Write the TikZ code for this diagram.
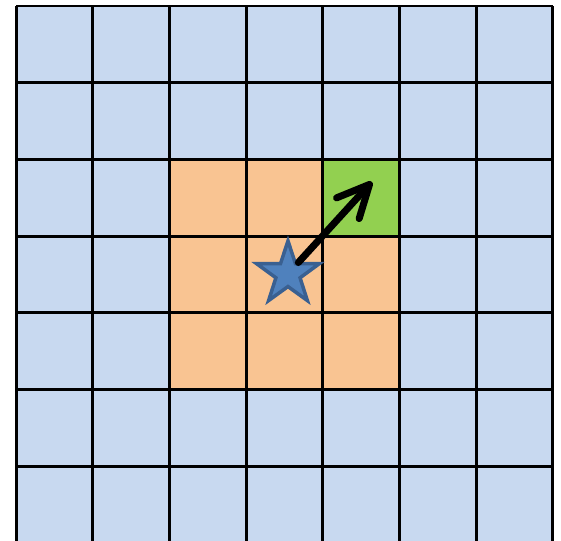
\documentclass[tikz,border=0pt]{standalone}
\usepackage{tikz}
\usetikzlibrary{arrows.meta, shapes.geometric}
\definecolor{cellblue}{RGB}{200,217,240}
\definecolor{cellorange}{RGB}{249,196,146}
\definecolor{cellgreen}{RGB}{146,208,80}
\definecolor{starblue}{RGB}{79,129,189}
\definecolor{starline}{RGB}{58,96,145}

\begin{document}
\begin{tikzpicture}[
  gridline/.style={line width=1.1pt, black},
  agent/.style={star, star points=5, star point ratio=2.6, minimum size=0.86cm,
    inner sep=0pt, fill=starblue, draw=starline, line width=1.3pt},
  move/.style={-{Straight Barb[length=0.42cm, width=0.4cm, line cap=round, line join=round]},
    line width=2.6pt, line cap=round, black}
]
  \useasboundingbox (-0.209,0.026) rectangle (7.106,7.078);

  % cells
  \fill[cellblue] (0,0) rectangle (7,7);
  \fill[cellorange] (2,2) rectangle (5,5);
  \fill[cellgreen] (4,4) rectangle (5,5);
  \draw[gridline, step=1] (0,0) grid (7,7);

  \node[agent] (s) at (3.546,3.507) {};
  \coordinate (goal) at (4.64,4.707);

  \draw[move, shorten <=0.2cm] (s.center) -- (goal);
\end{tikzpicture}
\end{document}
